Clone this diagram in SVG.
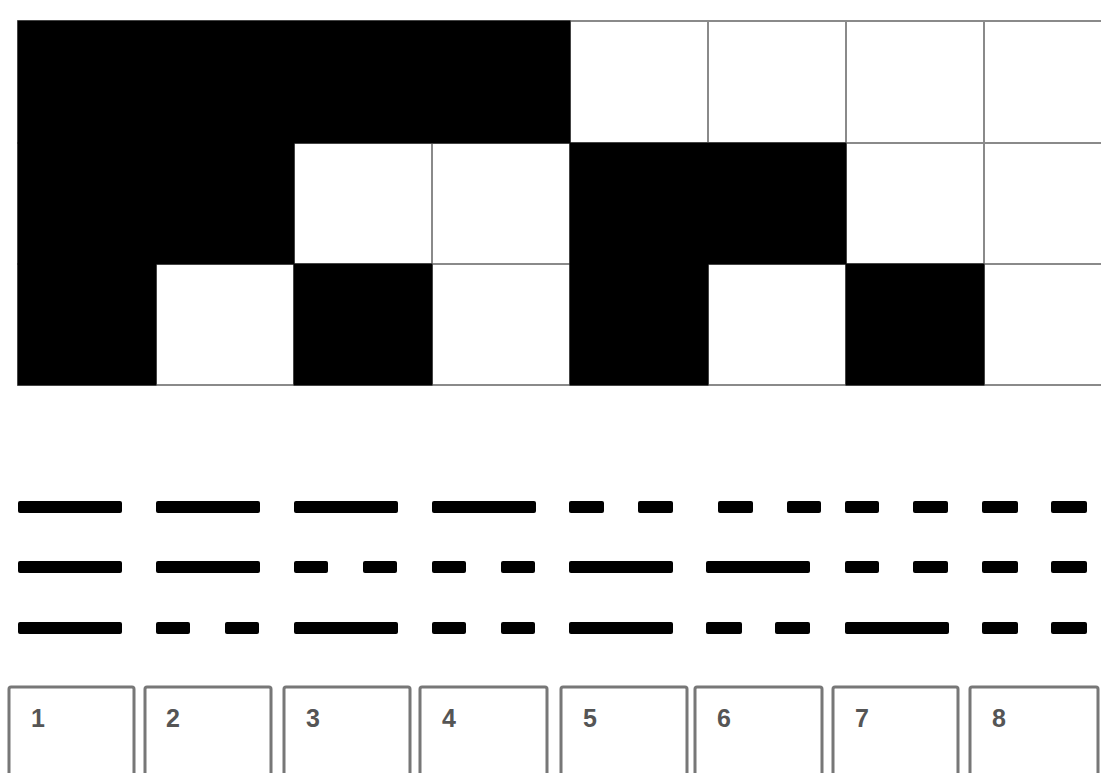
<svg xmlns="http://www.w3.org/2000/svg" width="1101" height="773" viewBox="0 0 1101 773">
<style>
.w{fill:#fff;stroke:#8a8a8a;stroke-width:2}
.b{fill:#000;stroke:#000;stroke-width:1}
.d{fill:#000}
.box{fill:#fff;stroke:#777;stroke-width:3}
.lbl{font-family:"Liberation Sans",Arial,sans-serif;font-size:25px;font-weight:bold;fill:#555}
</style>
<rect width="1101" height="773" fill="#fff"/>
<g id="grid">
<rect class="w" x="18" y="21" width="138" height="122"/><rect class="w" x="156" y="21" width="138" height="122"/><rect class="w" x="294" y="21" width="138" height="122"/><rect class="w" x="432" y="21" width="138" height="122"/><rect class="w" x="570" y="21" width="138" height="122"/><rect class="w" x="708" y="21" width="138" height="122"/><rect class="w" x="846" y="21" width="138" height="122"/><rect class="w" x="984" y="21" width="138" height="122"/>
<rect class="w" x="18" y="143" width="138" height="121"/><rect class="w" x="156" y="143" width="138" height="121"/><rect class="w" x="294" y="143" width="138" height="121"/><rect class="w" x="432" y="143" width="138" height="121"/><rect class="w" x="570" y="143" width="138" height="121"/><rect class="w" x="708" y="143" width="138" height="121"/><rect class="w" x="846" y="143" width="138" height="121"/><rect class="w" x="984" y="143" width="138" height="121"/>
<rect class="w" x="18" y="264" width="138" height="121"/><rect class="w" x="156" y="264" width="138" height="121"/><rect class="w" x="294" y="264" width="138" height="121"/><rect class="w" x="432" y="264" width="138" height="121"/><rect class="w" x="570" y="264" width="138" height="121"/><rect class="w" x="708" y="264" width="138" height="121"/><rect class="w" x="846" y="264" width="138" height="121"/><rect class="w" x="984" y="264" width="138" height="121"/>
<rect class="b" x="18" y="21" width="552" height="122"/>
<rect class="b" x="18" y="143" width="276" height="121"/>
<rect class="b" x="570" y="143" width="276" height="121"/>
<rect class="b" x="18" y="264" width="138" height="121"/>
<rect class="b" x="294" y="264" width="138" height="121"/>
<rect class="b" x="570" y="264" width="138" height="121"/>
<rect class="b" x="846" y="264" width="138" height="121"/>
</g>
<g id="dashes">
<rect class="d" x="18" y="501" width="104" height="12" rx="2"/><rect class="d" x="156" y="501" width="104" height="12" rx="2"/><rect class="d" x="294" y="501" width="104" height="12" rx="2"/><rect class="d" x="432" y="501" width="104" height="12" rx="2"/>
<rect class="d" x="569" y="501" width="35" height="12" rx="2"/><rect class="d" x="638" y="501" width="35" height="12" rx="2"/><rect class="d" x="718" y="501" width="35" height="12" rx="2"/><rect class="d" x="787" y="501" width="34" height="12" rx="2"/>
<rect class="d" x="845" y="501" width="34" height="12" rx="2"/><rect class="d" x="913" y="501" width="35" height="12" rx="2"/><rect class="d" x="982" y="501" width="36" height="12" rx="2"/><rect class="d" x="1051" y="501" width="36" height="12" rx="2"/>

<rect class="d" x="18" y="561" width="104" height="12" rx="2"/><rect class="d" x="156" y="561" width="104" height="12" rx="2"/>
<rect class="d" x="294" y="561" width="34" height="12" rx="2"/><rect class="d" x="363" y="561" width="34" height="12" rx="2"/><rect class="d" x="432" y="561" width="34" height="12" rx="2"/><rect class="d" x="501" y="561" width="34" height="12" rx="2"/>
<rect class="d" x="569" y="561" width="104" height="12" rx="2"/><rect class="d" x="706" y="561" width="104" height="12" rx="2"/>
<rect class="d" x="845" y="561" width="34" height="12" rx="2"/><rect class="d" x="913" y="561" width="35" height="12" rx="2"/><rect class="d" x="982" y="561" width="36" height="12" rx="2"/><rect class="d" x="1051" y="561" width="36" height="12" rx="2"/>

<rect class="d" x="18" y="622" width="104" height="12" rx="2"/>
<rect class="d" x="156" y="622" width="34" height="12" rx="2"/><rect class="d" x="225" y="622" width="34" height="12" rx="2"/>
<rect class="d" x="294" y="622" width="104" height="12" rx="2"/>
<rect class="d" x="432" y="622" width="34" height="12" rx="2"/><rect class="d" x="501" y="622" width="34" height="12" rx="2"/>
<rect class="d" x="569" y="622" width="104" height="12" rx="2"/>
<rect class="d" x="706" y="622" width="36" height="12" rx="2"/><rect class="d" x="775" y="622" width="35" height="12" rx="2"/>
<rect class="d" x="845" y="622" width="104" height="12" rx="2"/>
<rect class="d" x="982" y="622" width="36" height="12" rx="2"/><rect class="d" x="1051" y="622" width="36" height="12" rx="2"/>
</g>
<g id="box1"><rect class="box" x="9" y="687" width="125" height="100" rx="2"/><text class="lbl" x="31" y="727">1</text></g>
<g id="box2"><rect class="box" x="145" y="687" width="126" height="100" rx="2"/><text class="lbl" x="166" y="727">2</text></g>
<g id="box3"><rect class="box" x="284" y="687" width="126" height="100" rx="2"/><text class="lbl" x="306" y="727">3</text></g>
<g id="box4"><rect class="box" x="420" y="687" width="127" height="100" rx="2"/><text class="lbl" x="442" y="727">4</text></g>
<g id="box5"><rect class="box" x="561" y="687" width="126" height="100" rx="2"/><text class="lbl" x="583" y="727">5</text></g>
<g id="box6"><rect class="box" x="695" y="687" width="127" height="100" rx="2"/><text class="lbl" x="717" y="727">6</text></g>
<g id="box7"><rect class="box" x="833" y="687" width="125" height="100" rx="2"/><text class="lbl" x="855" y="727">7</text></g>
<g id="box8"><rect class="box" x="970" y="687" width="128" height="100" rx="2"/><text class="lbl" x="992" y="727">8</text></g>
</svg>
